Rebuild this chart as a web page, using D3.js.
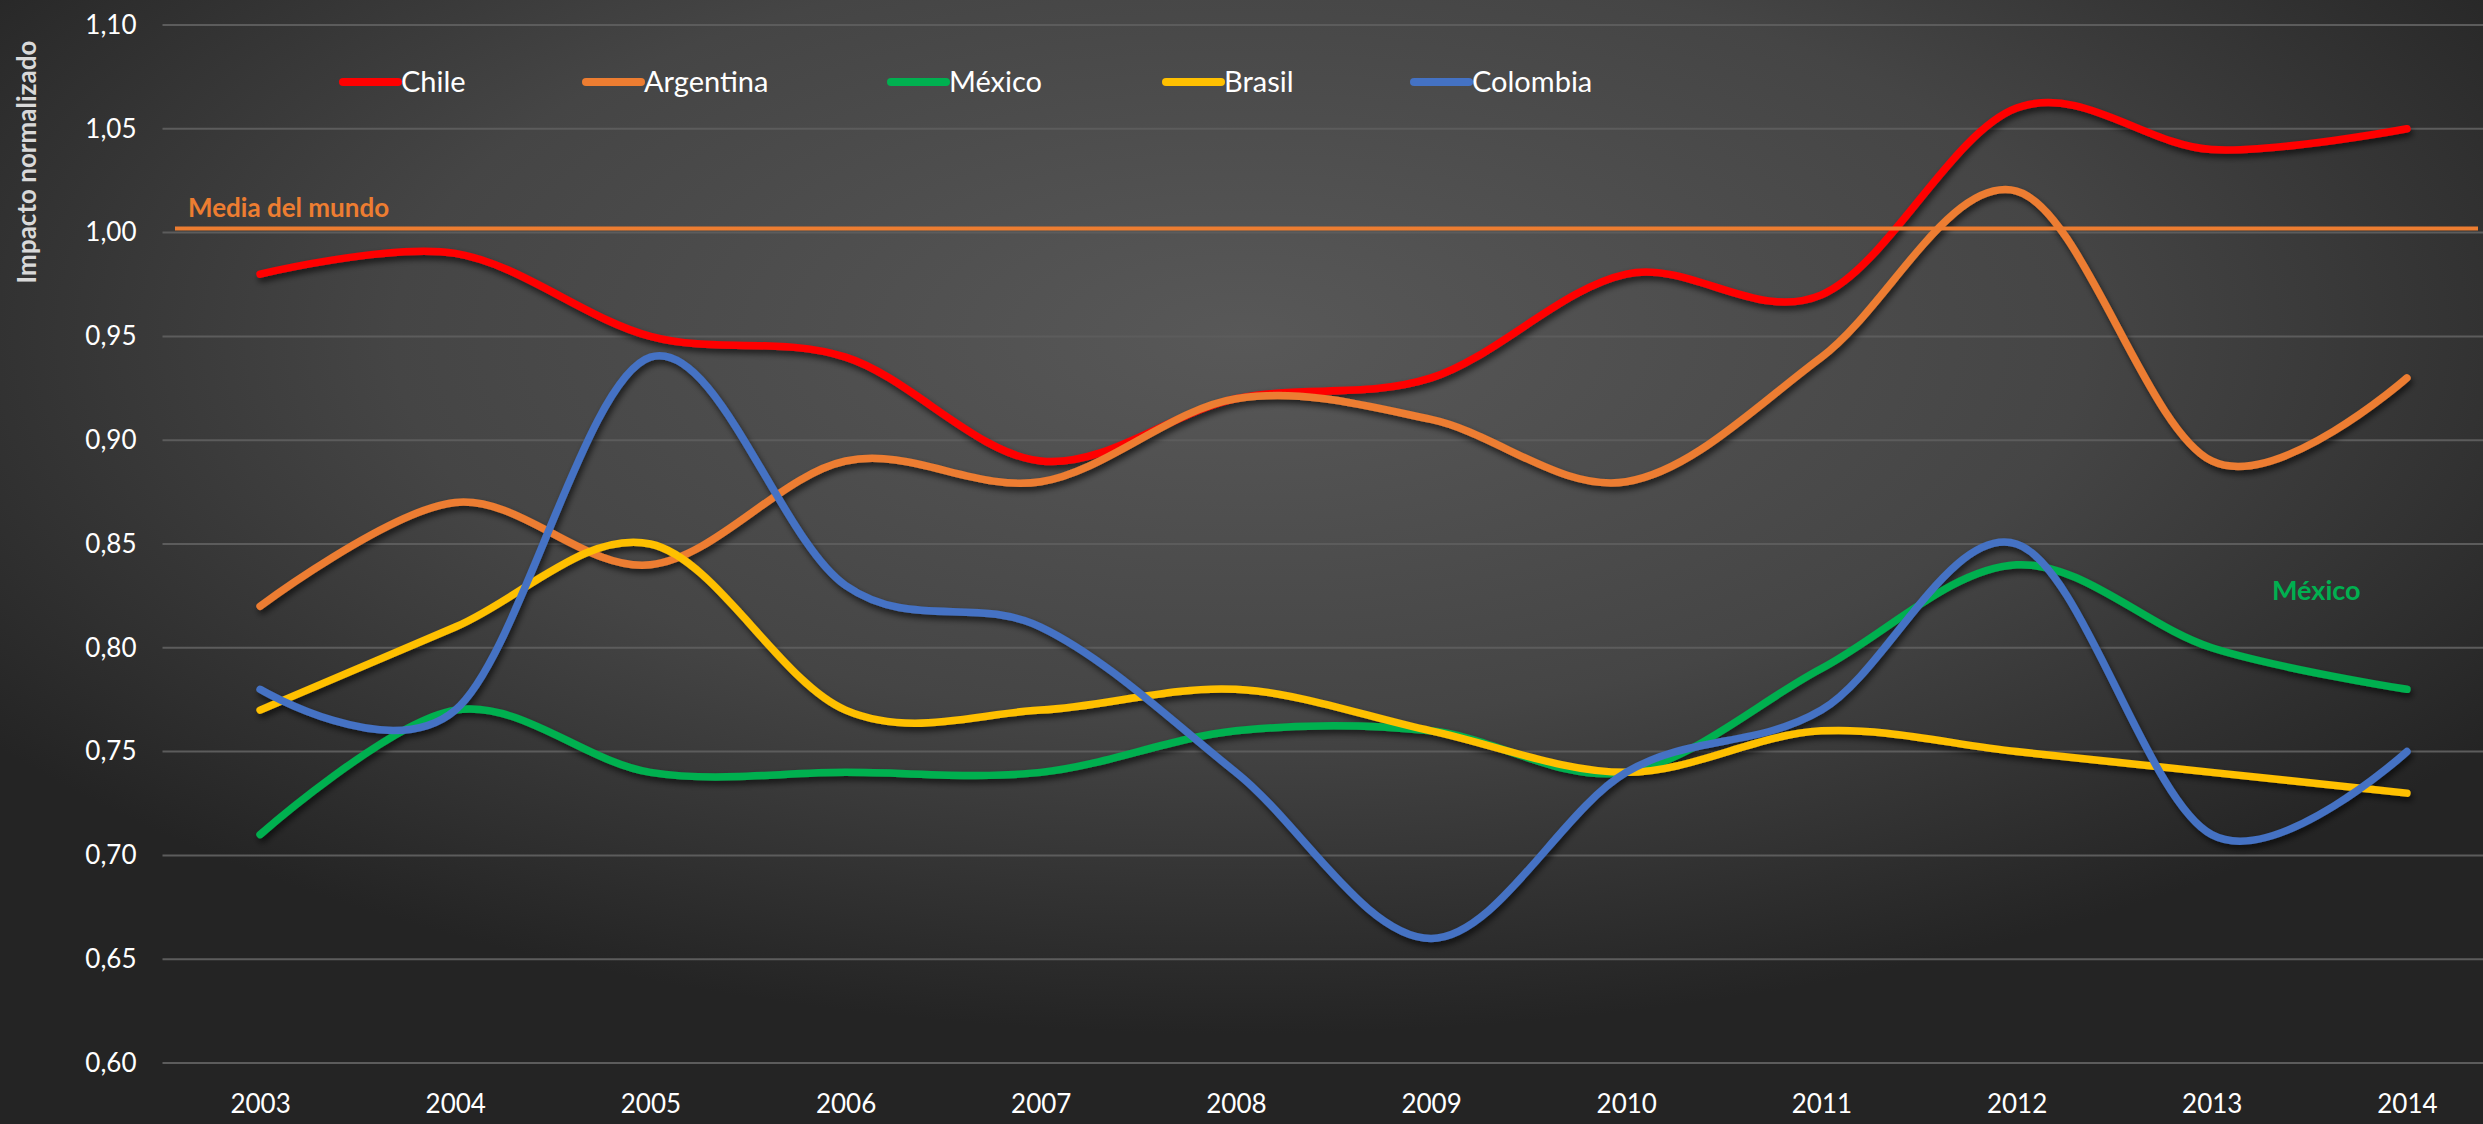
<!DOCTYPE html>
<html>
<head>
<meta charset="utf-8">
<script src="https://cdn.jsdelivr.net/npm/d3@7"></script>
<style>
  html, body { margin: 0; padding: 0; background: #2b2b2b; }
  svg { display: block; font-family: Lato, "Open Sans", sans-serif; }
</style>
</head>
<body>
<div id="chart"></div>
<script>
// data
const years = ['2003','2004','2005','2006','2007','2008','2009','2010','2011','2012','2013','2014'];
const countries = ['Chile', 'Argentina', 'México', 'Brasil', 'Colombia'];
const colors = ['#ff0000', '#ed7d31', '#00b050', '#ffc000', '#4472c4'];
const chile     = [0.98, 0.99, 0.95, 0.94, 0.89, 0.92, 0.93, 0.98, 0.97, 1.06, 1.04, 1.05];
const argentina = [0.82, 0.87, 0.84, 0.89, 0.88, 0.92, 0.91, 0.88, 0.94, 1.02, 0.89, 0.93];
const mexico    = [0.71, 0.77, 0.74, 0.74, 0.74, 0.76, 0.76, 0.74, 0.79, 0.84, 0.80, 0.78];
const brasil    = [0.77, 0.81, 0.85, 0.77, 0.77, 0.78, 0.76, 0.74, 0.76, 0.75, 0.74, 0.73];
const colombia  = [0.78, 0.77, 0.94, 0.83, 0.81, 0.74, 0.66, 0.74, 0.77, 0.85, 0.71, 0.75];
const yTicks = [0.60, 0.65, 0.70, 0.75, 0.80, 0.85, 0.90, 0.95, 1.00, 1.05, 1.10];
const worldMean = 1.002;
const worldLabel = 'Media del mundo';
const yTitle = 'Impacto normalizado';

const series = [chile, argentina, mexico, brasil, colombia];

const width = 2483, height = 1124;
const plot = { left: 162.5, right: 2504.5, top: 25, bottom: 1063 };

const svg = d3.select('#chart').append('svg')
    .attr('width', width).attr('height', height);

const defs = svg.append('defs');
const grad = defs.append('radialGradient').attr('id', 'bg')
    .attr('cx', '50%').attr('cy', '30%').attr('r', '62%');
grad.append('stop').attr('offset', '0%').attr('stop-color', '#585858');
grad.append('stop').attr('offset', '55%').attr('stop-color', '#454545');
grad.append('stop').attr('offset', '100%').attr('stop-color', '#242424');

const shadow = defs.append('filter').attr('id', 'shadow')
    .attr('x', '-5%').attr('y', '-20%').attr('width', '110%').attr('height', '140%');
shadow.append('feDropShadow')
    .attr('dx', 2).attr('dy', 4).attr('stdDeviation', 3)
    .attr('flood-color', '#000').attr('flood-opacity', 0.65);

svg.append('rect').attr('width', width).attr('height', height).attr('fill', 'url(#bg)');

const x = d3.scalePoint().domain(years).range([plot.left, plot.right]).padding(0.5);
const y = d3.scaleLinear().domain([0.6, 1.1]).range([plot.bottom, plot.top]);

const fmt = d3.formatLocale({ decimal: ',', thousands: '.', grouping: [3], currency: ['', ''] }).format('.2f');

// gridlines
svg.append('g')
    .selectAll('line').data(yTicks).join('line')
    .attr('x1', plot.left).attr('x2', width)
    .attr('y1', d => y(d)).attr('y2', d => y(d))
    .attr('stroke', '#5c5c5c').attr('stroke-width', 2);

// y axis labels
const yAxis = svg.append('g')
    .attr('transform', `translate(${plot.left - 26},0)`)
    .call(d3.axisLeft(y).tickValues(yTicks).tickFormat(fmt).tickSize(0).tickPadding(0));
yAxis.select('.domain').remove();
yAxis.selectAll('text').attr('fill', '#ffffff').attr('font-size', 26)
    .attr('font-family', 'Lato, sans-serif');

// x axis labels
const xAxis = svg.append('g')
    .attr('transform', `translate(0,${plot.bottom + 32})`)
    .call(d3.axisBottom(x).tickSize(0).tickPadding(0));
xAxis.select('.domain').remove();
xAxis.selectAll('text').attr('fill', '#ffffff').attr('font-size', 26)
    .attr('font-family', 'Lato, sans-serif');

// y axis title
svg.append('text')
    .attr('transform', 'translate(36,162) rotate(-90)')
    .attr('text-anchor', 'middle')
    .attr('font-size', 26).attr('font-weight', 'bold')
    .attr('fill', '#d9d9d9')
    .text(yTitle);

// series
const line = d3.line()
    .x((d, i) => x(years[i]))
    .y(d => y(d))
    .curve(d3.curveCardinal.tension(0));

svg.append('g').attr('filter', 'url(#shadow)')
    .selectAll('path').data(series).join('path')
    .attr('d', line)
    .attr('fill', 'none')
    .attr('stroke', (d, i) => colors[i])
    .attr('stroke-width', 7.5)
    .attr('stroke-linecap', 'round')
    .attr('stroke-linejoin', 'round');

// world mean
svg.append('line')
    .attr('x1', 175).attr('x2', 2478)
    .attr('y1', y(worldMean)).attr('y2', y(worldMean))
    .attr('stroke', colors[1]).attr('stroke-width', 4);
svg.append('text')
    .attr('x', 188).attr('y', y(worldMean) - 11)
    .attr('font-size', 26).attr('font-weight', 'bold')
    .attr('fill', colors[1])
    .text(worldLabel);

// annotation for México
svg.append('text')
    .attr('x', 2272).attr('y', 600)
    .attr('font-size', 27).attr('font-weight', 'bold')
    .attr('fill', colors[2])
    .text(countries[2]);

// legend
const legendX = [343, 586, 891, 1166, 1414];
const legend = svg.append('g').attr('transform', 'translate(0,82)');
const item = legend.selectAll('g').data(countries).join('g')
    .attr('transform', (d, i) => `translate(${legendX[i]},0)`);
item.append('line')
    .attr('x1', 0).attr('x2', 55)
    .attr('stroke', (d, i) => colors[i])
    .attr('stroke-width', 8).attr('stroke-linecap', 'round');
item.append('text')
    .attr('x', 58).attr('dy', '0.36em')
    .attr('font-size', 29).attr('fill', '#ffffff')
    .text(d => d);
</script>
</body>
</html>
